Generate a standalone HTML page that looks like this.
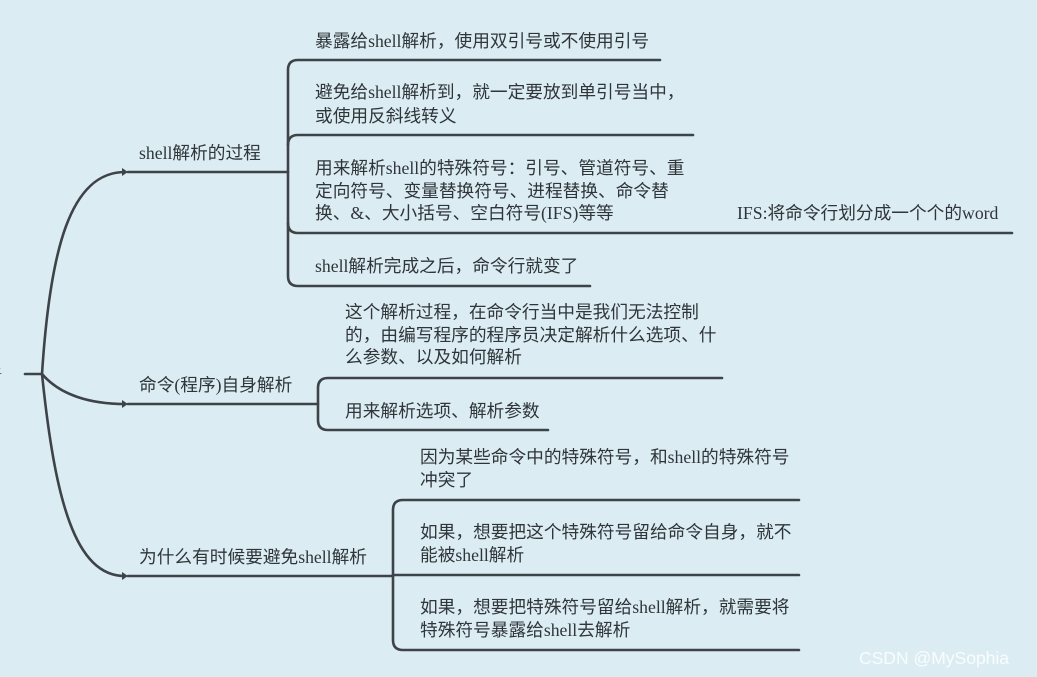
<!DOCTYPE html>
<html><head><meta charset="utf-8"><style>
html,body{margin:0;padding:0;background:#dbedf3;}
svg{display:block}
text{font-family:"Liberation Serif","Noto Sans CJK SC",serif;font-size:17.7px;fill:#2f3538;}
</style></head><body>
<svg width="1037" height="677" viewBox="0 0 1037 677" xmlns="http://www.w3.org/2000/svg">
<rect width="1037" height="677" fill="#dbedf3"/>
<g fill="none" stroke="#3d4347" stroke-width="2.6" stroke-linecap="round">
<path d="M25 374 H42"/>
<path d="M42 374 C50 250 70 172 125 172"/>
<path d="M42 374 C60 395 90 404 125 404"/>
<path d="M42 374 C55 500 75 576 125 576"/>
<path d="M128 172 H288"/>
<path d="M128 404 H318"/>
<path d="M128 576 H393"/>
<path d="M660 60 H298 Q288 60 288 70 V276 Q288 286 298 286 H590"/>
<path d="M693 135 H298 Q288 135 288 145"/>
<path d="M1012 233 H298 Q288 233 288 223"/>
<path d="M722 378 H328 Q318 378 318 388 V420 Q318 430 328 430 H548"/>
<path d="M799 500 H403 Q393 500 393 510 V640 Q393 650 403 650 H799"/>
<path d="M393 575 H799"/>
</g>
<g fill="#3d4347">
<path d="M128 172 l-6 -4 v8 z"/>
<path d="M128 404 l-6 -4 v8 z"/>
<path d="M128 576 l-6 -4 v8 z"/>
</g>
<text x="-12" y="380" style="font-size:14px;fill:#666">析</text>
<text x="139" y="159">shell解析的过程</text>
<text x="139" y="391">命令(程序)自身解析</text>
<text x="139" y="563">为什么有时候要避免shell解析</text>

<text x="315" y="47">暴露给shell解析，使用双引号或不使用引号</text>
<text x="315" y="98">避免给shell解析到，就一定要放到单引号当中，</text>
<text x="315" y="122">或使用反斜线转义</text>
<text x="315" y="174">用来解析shell的特殊符号：引号、管道符号、重</text>
<text x="315" y="197">定向符号、变量替换符号、进程替换、命令替</text>
<text x="315" y="219">换、&amp;、大小括号、空白符号(IFS)等等</text>
<text x="737" y="219">IFS:将命令行划分成一个个的word</text>
<text x="315" y="272">shell解析完成之后，命令行就变了</text>

<text x="345" y="318">这个解析过程，在命令行当中是我们无法控制</text>
<text x="345" y="341">的，由编写程序的程序员决定解析什么选项、什</text>
<text x="345" y="363">么参数、以及如何解析</text>
<text x="345" y="417">用来解析选项、解析参数</text>

<text x="420" y="463">因为某些命令中的特殊符号，和shell的特殊符号</text>
<text x="420" y="486">冲突了</text>
<text x="420" y="538">如果，想要把这个特殊符号留给命令自身，就不</text>
<text x="420" y="561">能被shell解析</text>
<text x="420" y="613">如果，想要把特殊符号留给shell解析，就需要将</text>
<text x="420" y="636">特殊符号暴露给shell去解析</text>

<text x="859" y="664" style="font-family:'Liberation Sans','Noto Sans CJK SC',sans-serif;font-size:17.5px;fill:#ffffff;opacity:0.85">CSDN @MySophia</text>
</svg>
</body></html>
